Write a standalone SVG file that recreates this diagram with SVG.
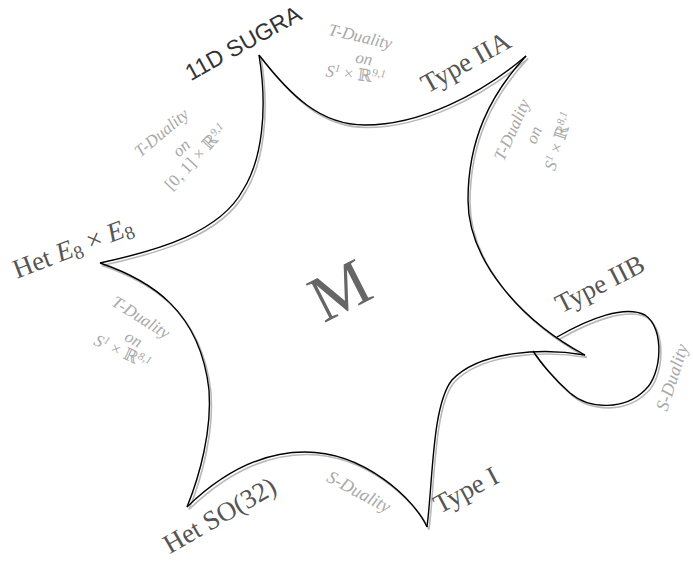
<svg xmlns="http://www.w3.org/2000/svg" width="693" height="561" viewBox="0 0 693 561">
<style>
.line{fill:none;stroke:#000;stroke-width:1.4;stroke-linejoin:miter}
.shadow{fill:none;stroke:#b8b8b8;stroke-width:1.6}
.node{font-family:"Liberation Serif","DejaVu Serif",serif;font-size:27px;fill:#555;text-anchor:middle}
.sans{font-family:"Liberation Sans","DejaVu Sans",sans-serif;font-size:23px;fill:#333;text-anchor:middle}
.lbl{font-family:"Liberation Serif","DejaVu Serif",serif;font-style:italic;font-size:17px;fill:#a8a8a8;text-anchor:middle}
.sd{font-size:18px}
.up{font-style:normal}
</style>
<defs>
<g id="edges">
<path id="e1" d="M259,55 C290,95 320,125 365,125 C420,125 480,95 526,56"/>
<path id="e2" d="M526,56 C490,95 468,140 468,200 C468,260 520,320 585,355"/>
<path id="e3" d="M585,355 C545,348 480,350 452,380 C432,405 433,480 427,527"/>
<path id="e4" d="M427,527 C415,500 365,452 305,452 C255,452 215,480 187,507"/>
<path id="e5" d="M187,507 C200,475 212,430 209,390 C200,310 150,280 100,263"/>
<path id="e6" d="M100,263 C160,250 220,232 243,190 C262,160 268,110 259,55"/>
<path id="e7" d="M557,337 C590,318 625,305 645,315 C665,328 662,375 645,390 C625,410 590,410 570,393 C555,380 540,362 533,351"/>
</g>
</defs>
<g id="connectors">
<use href="#edges" class="shadow" transform="translate(2,2.5)"/>
<use href="#edges" class="line"/>
<g id="edge-labels">
<text class="lbl" x="359" y="42" transform="rotate(13 359 42)">T-Duality</text>
<text class="lbl" x="363" y="64" transform="rotate(10 363 64)">on</text>
<text class="lbl" x="355" y="80" transform="rotate(7 355 80)">S<tspan font-size="11" dy="-6">1</tspan><tspan class="up" dy="6"> × ℝ</tspan><tspan font-size="11" dy="-6">9,1</tspan></text>

<text class="lbl" x="165" y="137" transform="rotate(-40 165 137)">T-Duality</text>
<text class="lbl" x="185" y="152" transform="rotate(-42 185 152)">on</text>
<text class="lbl" x="200" y="161" transform="rotate(-47 200 161)"><tspan class="up">[0, 1] × ℝ</tspan><tspan font-size="11" dy="-6">9,1</tspan></text>

<text class="lbl" x="517" y="132" transform="rotate(-66 517 132)">T-Duality</text>
<text class="lbl" x="539" y="137" transform="rotate(-68 539 137)">on</text>
<text class="lbl" x="564" y="143" transform="rotate(-72 564 143)">S<tspan font-size="11" dy="-6">1</tspan><tspan class="up" dy="6"> × ℝ</tspan><tspan font-size="11" dy="-6">8,1</tspan></text>

<text class="lbl" x="138" y="322" transform="rotate(32 138 322)">T-Duality</text>
<text class="lbl" x="131" y="344" transform="rotate(28 131 344)">on</text>
<text class="lbl" x="120" y="357" transform="rotate(25 120 357)">S<tspan font-size="11" dy="-6">1</tspan><tspan class="up" dy="6"> × ℝ</tspan><tspan font-size="11" dy="-6">8,1</tspan></text>

<text class="lbl sd" x="356" y="497" transform="rotate(28 356 497)">S-Duality</text>
<text class="lbl sd" x="667" y="412" transform="rotate(-72 667 412)" style="text-anchor:start">S-Duality</text>
</g>
</g>
<g id="node-11d"><text class="sans" x="247" y="50" transform="rotate(-29 247 50)">11D SUGRA</text></g>
<g id="node-iia"><text class="node" x="470" y="70" transform="rotate(-29 470 70)">Type IIA</text></g>
<g id="node-e8"><text class="node" x="76" y="256" transform="rotate(-21 76 256)">Het <tspan font-style="italic">E</tspan><tspan font-size="19" dy="4">8</tspan><tspan dy="-4"> × </tspan><tspan font-style="italic">E</tspan><tspan font-size="19" dy="4">8</tspan></text></g>
<g id="node-so32"><text class="node" x="224" y="523" transform="rotate(-30 224 523)">Het SO(32)</text></g>
<g id="node-i"><text class="node" x="470" y="498" transform="rotate(-28 470 498)">Type I</text></g>
<g id="node-iib"><text class="node" x="604" y="292" transform="rotate(-27 604 292)">Type IIB</text></g>
<g id="node-m"><text class="node" x="350" y="310" transform="rotate(-27 350 310)" style="font-size:66px;fill:#666">M</text></g>
</svg>
